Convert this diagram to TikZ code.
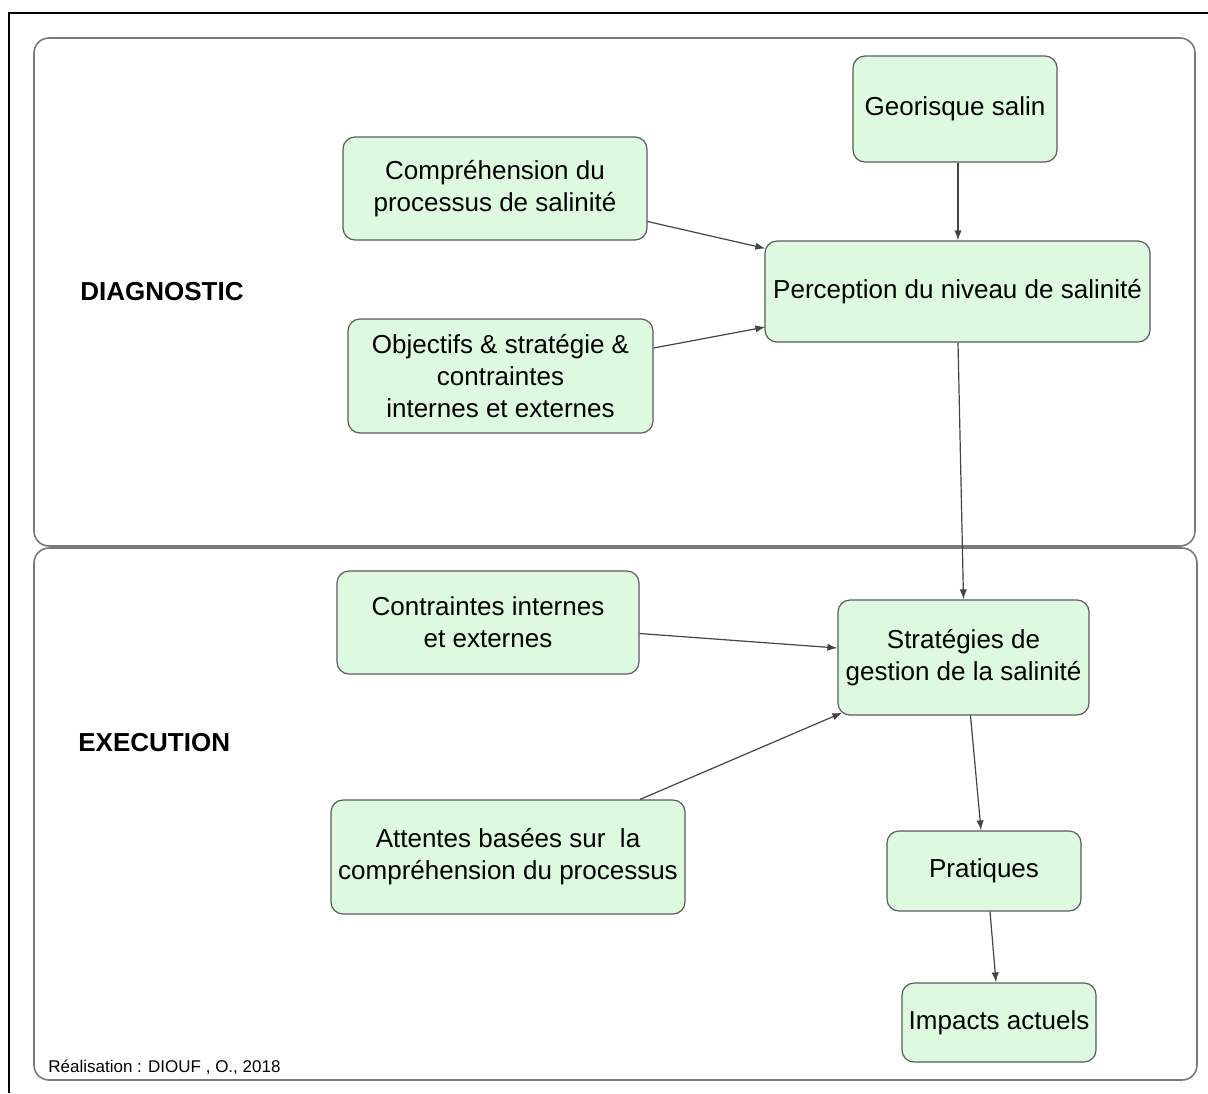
\documentclass[tikz,border=0pt]{standalone}
\usepackage{fontspec}
\setmainfont{Liberation Sans}
\usepackage{tikz}
\usetikzlibrary{arrows.meta,positioning,calc}
\definecolor{boxfill}{HTML}{DDF9E0}
\definecolor{boxline}{HTML}{5A5A5A}
\definecolor{panelline}{HTML}{7A7A7A}
\definecolor{arrline}{HTML}{444444}

\begin{document}
\begin{tikzpicture}[
		x=0.5pt, y=-0.5pt,
		>={Latex[length=5pt,width=3.6pt]},
		stepbox/.style={draw=boxline, line width=0.6pt, rounded corners=6pt, fill=boxfill, align=center, inner sep=2pt, font=\fontsize{13}{16}\selectfont},
		panel/.style={draw=panelline, line width=0.8pt, rounded corners=7.5pt},
		phase/.style={anchor=west, inner sep=0pt, font=\bfseries\fontsize{13}{16}\selectfont},
		arr/.style={->, draw=arrline, line width=0.6pt}
		]
		
		\useasboundingbox (0,0) rectangle (1208,1093);
		\draw[black, line width=0.7pt] (9,1093) -- (9,13) -- (1208,13);
		
		% Panels
		\draw[panel] (34,38) rectangle (1195,546);
		\draw[panel] (34,548) rectangle (1197,1080);
		
		\node[phase] (diag) at (80,292) {DIAGNOSTIC};
		\node[phase] (exec) at (78,743) {EXECUTION};
		\node[anchor=west, inner sep=0pt, font=\fontsize{8.5}{10}\selectfont] (credit) at (48,1067) {Réalisation : DIOUF , O., 2018};
		
		% Diagnostic panel
		\node[stepbox, minimum width=102pt, minimum height=53pt] (geo) at (955,109) {Georisque salin};
		\node[stepbox, minimum width=152pt, minimum height=51.5pt] (compr) at (495,188.5) {Compréhension du\\processus de salinité};
		\node[stepbox, minimum width=192.5pt, minimum height=50.5pt] (percep) at (957.5,291.5) {Perception du niveau de salinité};
		\node[stepbox, minimum width=152.5pt, minimum height=57pt] (obj) at (500.5,376) {Objectifs \& stratégie \&\\contraintes\\ internes et externes};
		
		% Execution panel
		\node[stepbox, minimum width=151pt, minimum height=51.5pt] (contr) at (488,622.5) {Contraintes internes\\et externes};
		\node[stepbox, minimum width=125.5pt, minimum height=57.5pt] (strat) at (963.5,657.5) {Stratégies de\\gestion de la salinité};
		\node[stepbox, minimum width=177pt, minimum height=57pt] (attentes) at (508,857) {Attentes basées sur\ \ la\\compréhension du processus};
		\node[stepbox, minimum width=97pt, minimum height=40pt] (prat) at (984,871) {Pratiques};
		\node[stepbox, minimum width=97pt, minimum height=39.5pt] (impacts) at (999,1022.5) {Impacts actuels};
		
		% Arrows
		\draw[arr] ($(geo.south)+(3,0)$) -- ($(percep.north)+(0.5,0)$);
		\draw[arr] ($(compr.east)+(0,33)$) -- ($(percep.west)+(1,-43)$);
		\draw[arr] ($(obj.east)+(0,-28)$) -- ($(percep.west)+(1,35.5)$);
		\draw[arr] ($(percep.south)+(0.5,0)$) -- (strat.north);
		\draw[arr] ($(contr.east)+(0,11)$) -- ($(strat.west)+(0,-9.5)$);
		\draw[arr] ($(attentes.north)+(132,0)$) -- ($(strat.south west)+(5,-3)$);
		\draw[arr] ($(strat.south)+(7,0)$) -- ($(prat.north)+(-3,0)$);
		\draw[arr] ($(prat.south)+(6,0)$) -- ($(impacts.north)+(-3,0)$);
		
	\end{tikzpicture}
\end{document}
